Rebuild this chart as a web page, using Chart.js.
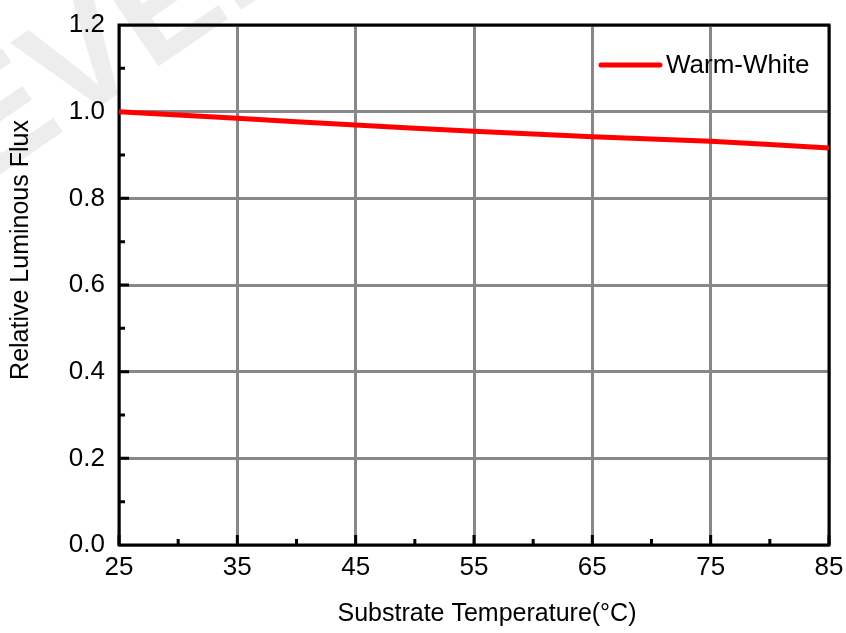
<!DOCTYPE html>
<html>
<head>
<meta charset="utf-8">
<script src="https://cdn.jsdelivr.net/npm/chart.js@4"></script>
<style>
  html, body { margin: 0; padding: 0; background: #fff; }
  #wrap { width: 846px; height: 633px; position: relative; }
</style>
</head>
<body>
<div id="wrap"><canvas id="fluxChart"></canvas></div>
<script>
// Chart data
const temps = [25, 35, 45, 55, 65, 75, 85];
const warmWhite = [1.0, 0.985, 0.969, 0.955, 0.942, 0.932, 0.916];
const seriesName = 'Warm-White';
const xTitle = 'Substrate Temperature(°C)';
const yTitle = 'Relative Luminous Flux';
const xMinorTicks = [30, 40, 50, 60, 70, 80];
const yMajorTicks = [0.2, 0.4, 0.6, 0.8, 1.0];
const yMinorTicks = [0.1, 0.3, 0.5, 0.7, 0.9, 1.1];

const FONT = "'Liberation Sans', Arial, sans-serif";

// faint watermark behind everything
const watermark = {
    id: 'watermark',
    beforeDraw(chart) {
        const ctx = chart.ctx;
        ctx.save();
        ctx.translate(-15, 185);
        ctx.rotate(-0.6);
        ctx.fillStyle = '#ededed';
        ctx.font = 'bold 150px ' + FONT;
        ctx.fillText('EVER', 0, 0);
        ctx.restore();
    }
};

// box frame and inward ticks, under the curve
const frame = {
    id: 'frame',
    beforeDatasetsDraw(chart) {
        const ctx = chart.ctx;
        const a = chart.chartArea;
        const xs = chart.scales.x, ys = chart.scales.y;
        ctx.save();
        ctx.strokeStyle = '#000';
        ctx.lineWidth = 3;
        ctx.strokeRect(a.left, a.top, a.right - a.left, a.bottom - a.top);

        ctx.beginPath();
        temps.forEach(t => {
            const px = xs.getPixelForValue(t);
            ctx.moveTo(px, a.bottom); ctx.lineTo(px, a.bottom - 10);
        });
        xMinorTicks.forEach(t => {
            const px = xs.getPixelForValue(t);
            ctx.moveTo(px, a.bottom); ctx.lineTo(px, a.bottom - 6);
        });
        yMajorTicks.forEach(v => {
            const py = ys.getPixelForValue(v);
            ctx.moveTo(a.left, py); ctx.lineTo(a.left + 10, py);
        });
        yMinorTicks.forEach(v => {
            const py = ys.getPixelForValue(v);
            ctx.moveTo(a.left, py); ctx.lineTo(a.left + 6, py);
        });
        ctx.stroke();
        ctx.restore();
    },
    afterDraw(chart) {
        const ctx = chart.ctx;
        ctx.save();
        // axis titles
        ctx.fillStyle = '#000';
        ctx.font = '25px ' + FONT;
        ctx.textAlign = 'center';
        ctx.textBaseline = 'middle';
        ctx.fillText(xTitle, 487, 614);
        ctx.save();
        ctx.translate(21, 250);
        ctx.rotate(-Math.PI / 2);
        ctx.fillText(yTitle, 0, 0);
        ctx.restore();

        // legend
        const ly = 65;
        ctx.strokeStyle = '#ff0000';
        ctx.lineWidth = 5;
        ctx.lineCap = 'round';
        ctx.beginPath();
        ctx.moveTo(601, ly); ctx.lineTo(660, ly);
        ctx.stroke();
        ctx.font = '26px ' + FONT;
        ctx.textAlign = 'left';
        ctx.fillText(seriesName, 666, ly + 1);
        ctx.restore();
    }
};

const ctx = document.getElementById('fluxChart').getContext('2d');
new Chart(ctx, {
    type: 'line',
    data: {
        datasets: [{
            label: seriesName,
            data: temps.map((t, i) => ({ x: t, y: warmWhite[i] })),
            borderColor: '#ff0000',
            borderWidth: 5,
            pointRadius: 0,
            tension: 0.2,
            clip: false
        }]
    },
    options: {
        responsive: true,
        maintainAspectRatio: false,
        animation: false,
        layout: { padding: { left: 0, top: 25, right: 17, bottom: 0 } },
        plugins: {
            legend: { display: false },
            tooltip: { enabled: false }
        },
        scales: {
            x: {
                type: 'linear',
                min: 25, max: 85,
                afterFit(scale) {
                    scale.height = 88;
                    scale.paddingLeft = 0;
                    scale.paddingRight = 0;
                },
                ticks: {
                    stepSize: 10,
                    color: '#000',
                    padding: 7,
                    font: { family: FONT, size: 26 }
                },
                grid: { color: '#888', lineWidth: 3, drawTicks: false },
                border: { display: false }
            },
            y: {
                min: 0, max: 1.2,
                afterFit(scale) {
                    scale.width = 119;
                    scale.paddingTop = 0;
                    scale.paddingBottom = 0;
                },
                ticks: {
                    stepSize: 0.2,
                    color: '#000',
                    padding: 14,
                    font: { family: FONT, size: 26 },
                    callback: v => v.toFixed(1)
                },
                grid: { color: '#888', lineWidth: 3, drawTicks: false },
                border: { display: false }
            }
        }
    },
    plugins: [watermark, frame]
});
</script>
</body>
</html>
